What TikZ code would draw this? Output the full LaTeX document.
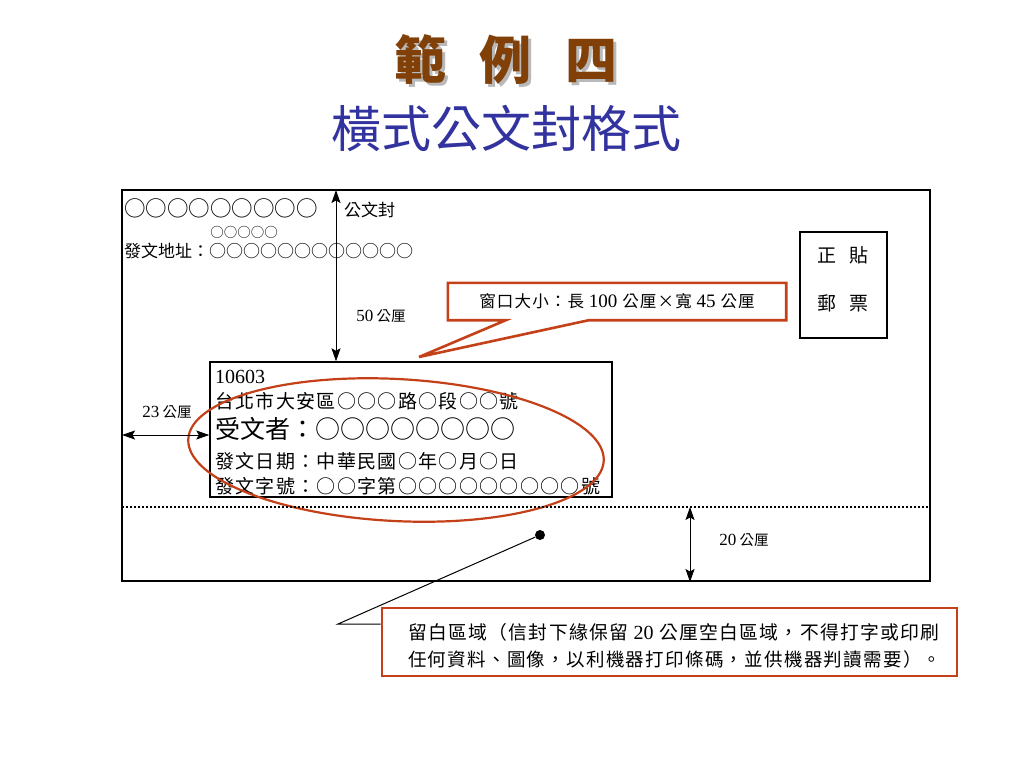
\documentclass[tikz,border=0pt]{standalone}
\usepackage{fontspec}
\setmainfont{Noto Sans CJK TC}
\newfontfamily\spacedcjk[LetterSpace=7]{Noto Sans CJK TC}
\newfontfamily\numfont{Liberation Serif}
\usetikzlibrary{positioning,shapes.geometric,arrows.meta,calc}
\newcommand\fsz[1]{\fontsize{#1}{#1}\selectfont}
\newcommand\nm[1]{{\numfont #1}}
\newcommand\shadowed[1]{\makebox[0pt][l]{\hspace{3pt}\raisebox{-3pt}{\color{gray!55}#1}}#1}
\definecolor{titlebrown}{RGB}{128,64,8}
\definecolor{titleblue}{RGB}{51,51,160}
\definecolor{notered}{RGB}{196,64,24}
\tikzset{
  dimline/.style={{Stealth[length=13pt,width=9pt,inset=2.5pt]}-{Stealth[length=13pt,width=9pt,inset=2.5pt]},line width=1pt},
  txt/.style={inner sep=0pt,anchor=west},
  frame/.style={draw,inner sep=0pt},
  notebox/.style={draw=notered,line width=2.6pt,inner sep=0pt},
}
\begin{document}
\begin{tikzpicture}[x=1pt,y=-1pt]
    \useasboundingbox (0,0) rectangle (1024,768);

    \node[font=\bfseries\fsz{52},text=titlebrown](title) at (506,61){\shadowed{範\hspace{34pt}例\hspace{34pt}四}};
    \node[font=\fsz{50},text=titleblue](subtitle) at (506,128){橫式公文封格式};

    \node[frame,line width=2pt,minimum width=808pt,minimum height=391pt](env) at (526,385.5){};
    \node[frame,line width=1.4pt,minimum width=402pt,minimum height=135pt](win) at (411,429.5){};
    \node[frame,line width=1.4pt,minimum width=87pt,minimum height=106pt](stamp) at (843.5,285){};

    \node[txt,font=\fsz{21.5}](r1) at (124,208){○○○○○○○○○};
    \node[inner sep=0pt,font=\fsz{13.5}](r2) at (244,232){○○○○○};
    \node[txt,font=\fsz{17}](r3) at (124,251){發文地址：○○○○○○○○○○○○};
    \node[txt,font=\fsz{17}](seal) at (344,210){公文封};

    \node[txt,font=\numfont\fsz{20}](w1) at (215,377){10603};
    \node[txt,font=\spacedcjk\fsz{19}](w2) at (215,401){台北市大安區○○○路○段○○號};
    \node[txt,font=\fsz{25}](w3) at (215,429){受文者：○○○○○○○○};
    \node[txt,font=\spacedcjk\fsz{19}](w4) at (215,461){發文日期：中華民國○年○月○日};
    \node[txt,font=\spacedcjk\fsz{19}](w5) at (215,486){發文字號：○○字第○○○○○○○○○號};

    \node[font=\fsz{19}](st1) at (843,255){正\hspace{13pt}貼};
    \node[font=\fsz{19}](st2) at (843,303){郵\hspace{13pt}票};

    \node[draw=notered,line width=2.2pt,ellipse,rotate=-3,minimum width=416pt,minimum height=142pt](oval) at (396,450){};

    \coordinate(a50) at (336,190);
    \coordinate(a23) at (122,435);
    \coordinate(dl) at (122,507);
    \coordinate(dr) at (930,507);
    \coordinate(a20) at (690,507);
    \draw[dimline] (a50) -- (a50 |- win.north);
    \draw[dimline] (a23) -- (a23 -| win.west);
    \draw[dimline] (a20) -- (a20 |- env.south);
    \draw[line width=1.1pt,dash pattern=on 2pt off 2pt] (dl) -- (dr);

    \node[font=\fsz{14.5}](m50) at (381,316){\nm{\fsz{17}50} 公厘};
    \node[font=\fsz{14.5}](m23) at (167,412){\nm{\fsz{17}23} 公厘};
    \node[font=\fsz{14.5}](m20) at (744,540){\nm{\fsz{17}20} 公厘};

    \node[minimum width=338pt,minimum height=37pt,inner sep=0pt,font=\spacedcjk\fsz{16.5}](sizenote) at (617,301.5){窗口大小：長 \nm{\fsz{19}100} 公厘×寬 \nm{\fsz{19}45} 公厘};
    \coordinate(tip) at (419,357);
    \draw[notered,line width=2.6pt,line join=miter]
      ($(sizenote.south west)+(58,0)$) -- (sizenote.south west) -- (sizenote.north west)
      -- (sizenote.north east) -- (sizenote.south east) -- ($(sizenote.south west)+(141,0)$)
      -- (tip) -- cycle;

    \node[notebox,minimum width=575pt,minimum height=68pt](blanknote) at (669.5,642){};
    \node[txt,font=\spacedcjk\fsz{18.8}](b1) at (408,632){留白區域（信封下緣保留 \nm{\fsz{20}20} 公厘空白區域，不得打字或印刷};
    \node[txt,font=\spacedcjk\fsz{18.5}](b2) at (408,659){任何資料、圖像，以利機器打印條碼，並供機器判讀需要）。};

    \node[circle,fill,minimum size=10pt,inner sep=0pt](dot) at (540,535){};
    \coordinate(kink) at (338,624);
    \draw[line width=1pt] (dot) -- (kink) -- (kink -| blanknote.west);

\end{tikzpicture}
\end{document}
